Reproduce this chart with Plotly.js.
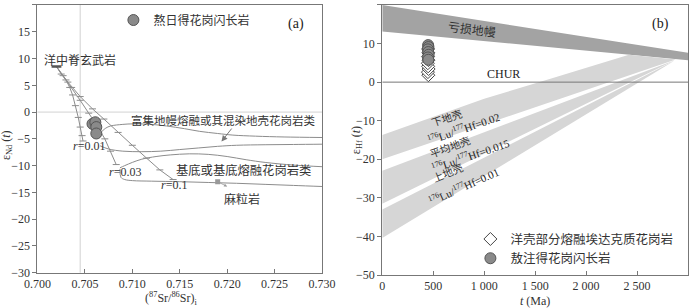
<!DOCTYPE html>
<html><head><meta charset="utf-8">
<script src="https://cdn.plot.ly/plotly-3.0.1.min.js"></script>
<style>html,body{margin:0;padding:0;background:#fff}#chart{width:700px;height:308px}</style>
</head><body><div id="chart"></div>
<script>
// ---------- Panel (a): Sr-Nd ----------
const mantleX = [0.7020], mantleY = [8.5];
const r001X = [0.7020,0.7025,0.7030,0.7034,0.7037,0.7040,0.7043,0.7045,0.7047,0.7048];
const r001Y = [8.5,7.1,6.0,4.6,3.2,1.2,-1.0,-2.8,-4.4,-5.4];
const r003X = [0.7020,0.7027,0.7036,0.7045,0.7054,0.7063,0.7071,0.7077,0.7083];
const r003Y = [8.5,6.8,4.6,2.2,-0.2,-2.6,-5.0,-7.3,-9.8];
const r01X  = [0.7020,0.7032,0.7045,0.7058,0.7070,0.7085,0.7100,0.7115,0.7129,0.7143];
const r01Y  = [8.5,5.6,2.9,0.6,-1.3,-3.8,-6.2,-8.6,-10.8,-12.6];
const emUpX = [0.7068,0.7072,0.7077,0.7090,0.7101,0.7120,0.7136,0.7155,0.7171,0.7190,0.7206,0.7230,0.7260,0.7300];
const emUpY = [-3.6,-3.0,-2.6,-2.3,-2.2,-2.3,-2.6,-3.1,-3.6,-4.0,-4.3,-4.5,-4.65,-4.75];
const emLoX = [0.7066,0.7075,0.7090,0.7110,0.7130,0.7150,0.7170,0.7190,0.7210,0.7240,0.7270,0.7300];
const emLoY = [-6.3,-6.9,-7.3,-7.4,-7.3,-7.0,-6.7,-6.4,-6.2,-6.1,-6.05,-6.0];
const bsUpX = [0.7087,0.7092,0.7100,0.7110,0.7125,0.7140,0.7160,0.7180,0.7200,0.7220,0.7240,0.7270,0.7300];
const bsUpY = [-10.4,-10.0,-9.4,-8.8,-8.3,-8.0,-7.8,-7.9,-8.3,-8.9,-9.4,-9.9,-10.2];
const bsLoX = [0.7087,0.7088,0.7092,0.7100,0.7120,0.7150,0.7180,0.7210,0.7240,0.7270,0.7300];
const bsLoY = [-10.6,-12.2,-12.6,-12.8,-12.9,-13.0,-13.15,-13.3,-13.5,-13.7,-13.9];
const sampleSr = [0.7058,0.7061,0.7062,0.7062];
const sampleNd = [-2.2,-1.9,-2.8,-4.0];
const granuliteSr = [0.7190], granuliteNd = [-13.0];
const bulkEarthSr = 0.7045, churNd = 0;
const srTicks = [0.700,0.705,0.710,0.715,0.720,0.725,0.730];
const ndTicks = [-30,-25,-20,-15,-10,-5,0,5,10,15,20];

// ---------- Panel (b): Hf evolution ----------
const dmT = [0,3000,3000,0], dmE = [20,7.6,5.7,13.1];
const lcT = [0,1000,1650,2420,2880,0], lcE = [-13.7,-4.3,0.9,7.1,5.9,-20];
const mcT = [0,2870,0], mcE = [-23,5.7,-31.5];
const ucT = [0,2870,0], ucE = [-33,5.6,-40.4];
const churT = [0,3000], churE = [0,0];
const adakT = [452,448,455,450,447,453,449,452,450];
const adakE = [1.8,2.6,3.4,4.1,4.9,5.7,6.6,7.6,8.6];
const granT = [450,453,448,451,455,449,452];
const granE = [9.6,9.1,8.5,7.8,7.1,6.4,5.8];
const tTicks = [0,500,1000,1500,2000,2500,3000];
const tTickText = ['0','500','1 000','1 500','2 000','2 500','3 000'];
const hfTicks = [-50,-40,-30,-20,-10,0,10,20];

const LG = '#8c8c8c';
const serif = 'Liberation Serif, Noto Sans CJK SC';
const cjk = 'Noto Sans CJK SC, Liberation Serif';
const tickMk = {symbol:'line-ew', size:5, line:{width:1, color:LG}};

const traces = [
  {x:r001X, y:r001Y, mode:'lines+markers', line:{color:LG,width:1}, marker:tickMk, showlegend:false, hoverinfo:'skip'},
  {x:r003X, y:r003Y, mode:'lines+markers', line:{color:LG,width:1}, marker:tickMk, showlegend:false, hoverinfo:'skip'},
  {x:r01X, y:r01Y, mode:'lines+markers', line:{color:LG,width:1}, marker:tickMk, showlegend:false, hoverinfo:'skip'},
  {x:emUpX, y:emUpY, mode:'lines', line:{color:LG,width:1, shape:'spline'}, showlegend:false},
  {x:emLoX, y:emLoY, mode:'lines', line:{color:LG,width:1, shape:'spline'}, showlegend:false},
  {x:bsUpX, y:bsUpY, mode:'lines', line:{color:LG,width:1, shape:'spline'}, showlegend:false},
  {x:bsLoX, y:bsLoY, mode:'lines', line:{color:LG,width:1, shape:'spline'}, showlegend:false},
  {x:mantleX, y:mantleY, mode:'markers', marker:{symbol:'line-ew', size:7, line:{width:2.5,color:'#555'}}, showlegend:false},
  {x:granuliteSr, y:granuliteNd, mode:'markers', marker:{symbol:'square', size:5, color:'#999'}, showlegend:false},
  {x:sampleSr, y:sampleNd, mode:'markers', name:'熬日得花岗闪长岩', legend:'legend',
   marker:{symbol:'circle', size:11, color:'#8a8a8a', line:{width:1,color:'#555'}}},
  // panel b
  {x:dmT, y:dmE, xaxis:'x2', yaxis:'y2', mode:'lines', fill:'toself', fillcolor:'#a3a3a3', line:{width:0}, showlegend:false},
  {x:lcT, y:lcE, xaxis:'x2', yaxis:'y2', mode:'lines', fill:'toself', fillcolor:'#d6d6d6', line:{width:0}, showlegend:false},
  {x:mcT, y:mcE, xaxis:'x2', yaxis:'y2', mode:'lines', fill:'toself', fillcolor:'#d6d6d6', line:{width:0}, showlegend:false},
  {x:ucT, y:ucE, xaxis:'x2', yaxis:'y2', mode:'lines', fill:'toself', fillcolor:'#d6d6d6', line:{width:0}, showlegend:false},
  {x:churT, y:churE, xaxis:'x2', yaxis:'y2', mode:'lines', line:{color:'#777',width:1}, showlegend:false},
  {x:adakT, y:adakE, xaxis:'x2', yaxis:'y2', mode:'markers', name:'洋壳部分熔融埃达克质花岗岩', legend:'legend2',
   marker:{symbol:'diamond', size:10, color:'#fff', line:{width:1,color:'#444'}}},
  {x:granT, y:granE, xaxis:'x2', yaxis:'y2', mode:'markers', name:'敖注得花岗闪长岩', legend:'legend2',
   marker:{symbol:'circle', size:11, color:'#8a8a8a', line:{width:1,color:'#555'}}}
];

const axBase = {showline:true, linecolor:'#777', linewidth:1, mirror:true, showgrid:false, zeroline:false,
  tickcolor:'#777', ticklen:4, tickfont:{family:serif, size:12, color:'#333'}};

function ann(xr, yr, x, y, text, size, angle, extra){
  return Object.assign({xref:xr, yref:yr, x:x, y:y, text:text, showarrow:false, textangle:angle||0,
    xanchor:'center', yanchor:'middle',
    font:{family:cjk, size:size||12, color:'#333'}}, extra||{});
}

const annotations = [
  ann('x','y',0.70448,9.9,'洋中脊玄武岩',12),
  ann('x','y',0.71951,-1.5,'富集地幔熔融或其混染地壳花岗岩类',11.5),
  ann('x','y',0.70538,-6.4,'<i>r</i>=0.01',11,0,{font:{family:serif,size:12,color:'#333'}}),
  ann('x','y',0.70926,-11.2,'<i>r</i>=0.03',11,0,{font:{family:serif,size:12,color:'#333'}}),
  ann('x','y',0.71440,-13.7,'<i>r</i>=0.1',11,0,{font:{family:serif,size:12,color:'#333'}}),
  ann('x','y',0.72172,-10.9,'基底或基底熔融花岗岩类',12.3),
  ann('x','y',0.72155,-16.2,'麻粒岩',12),
  ann('x','y',0.72731,16.45,'(a)',14,0,{font:{family:serif,size:14,color:'#222'}}),
  {xref:'x',yref:'y',axref:'x',ayref:'y',x:0.7194,y:-5.5,ax:0.7206,ay:-2.8,text:'',showarrow:true,arrowhead:2,arrowsize:1.2,arrowwidth:1,arrowcolor:'#777'},
  {xref:'x',yref:'y',axref:'x',ayref:'y',x:0.7200,y:-13.9,ax:0.7191,ay:-13.1,text:'',showarrow:true,arrowhead:2,arrowsize:0.8,arrowwidth:0.8,arrowcolor:'#999'},
  // panel b
  ann('x2','y2',880,13.9,'亏损地幔',12,7),
  ann('x2','y2',2728,15.1,'(b)',14,0,{font:{family:serif,size:14,color:'#222'}}),
  ann('x2','y2',1189,2.1,'CHUR',12,0,{font:{family:serif,size:12,color:'#222'}}),
  ann('x2','y2',633,-9.2,'下地壳',10.5,-18),
  ann('x2','y2',800,-12.0,'<sup>176</sup>Lu/<sup>177</sup>Hf=0.02',10.5,-19,{font:{family:serif,size:11,color:'#222'}}),
  ann('x2','y2',665,-16.8,'平均地壳',10.5,-20),
  ann('x2','y2',870,-19.0,'<sup>176</sup>Lu/<sup>177</sup>Hf=0.015',10.5,-19,{font:{family:serif,size:11,color:'#222'}}),
  ann('x2','y2',640,-23.4,'上地壳',10.5,-22),
  ann('x2','y2',800,-27.0,'<sup>176</sup>Lu/<sup>177</sup>Hf=0.01',10.5,-24,{font:{family:serif,size:11,color:'#222'}}),
  // axis titles
  ann('paper','paper',0.010,0.529,'ε<sub>Nd</sub> (<i>t</i>)',12,-90,{font:{family:serif,size:12,color:'#333'}}),
  ann('paper','paper',0.510,0.545,'ε<sub>Hf</sub> (<i>t</i>)',12,-90,{font:{family:serif,size:12,color:'#333'}}),
  ann('paper','paper',0.2443,0.030,'(<sup>87</sup>Sr/<sup>86</sup>Sr)<sub>i</sub>',12,0,{font:{family:serif,size:12,color:'#333'}}),
  ann('paper','paper',0.764,0.024,'<i>t</i> (Ma)',12,0,{font:{family:serif,size:12,color:'#333'}})
];

const shapes = [
  {type:'line', xref:'x', yref:'y domain', x0:bulkEarthSr, x1:bulkEarthSr, y0:0, y1:1, line:{color:'#d2d2d2', width:1}, layer:'below'},
  {type:'line', xref:'x domain', yref:'y', x0:0, x1:1, y0:churNd, y1:churNd, line:{color:'#d2d2d2', width:1}, layer:'below'}
];

const layout = {
  width:700, height:308, margin:{l:0,r:0,t:0,b:0},
  paper_bgcolor:'#fff', plot_bgcolor:'#fff', showlegend:true,
  xaxis:Object.assign({}, axBase, {domain:[0.05357,0.46], range:[0.700,0.730], tickvals:srTicks,
    ticktext:srTicks.map(v=>v.toFixed(3)), ticks:'inside', anchor:'y'}),
  yaxis:Object.assign({}, axBase, {domain:[0.1146,0.9838], range:[-30,20], tickvals:ndTicks, ticks:'outside', anchor:'x'}),
  xaxis2:Object.assign({}, axBase, {domain:[0.5461,0.9829], range:[0,3000], tickvals:tTicks, ticktext:tTickText, ticks:'inside', anchor:'y2'}),
  yaxis2:Object.assign({}, axBase, {domain:[0.1071,0.9838], range:[-50,20], tickvals:hfTicks, ticks:'outside', anchor:'x2'}),
  legend:{x:0.162, y:0.935, xanchor:'left', yanchor:'middle', bgcolor:'rgba(0,0,0,0)', borderwidth:0,
    font:{family:cjk, size:12, color:'#333'}},
  legend2:{x:0.672, y:0.192, xanchor:'left', yanchor:'middle', bgcolor:'rgba(0,0,0,0)', borderwidth:0,
    font:{family:cjk, size:12.5, color:'#333'}, tracegroupgap:0},
  annotations:annotations, shapes:shapes
};

Plotly.newPlot('chart', traces, layout, {displayModeBar:false, staticPlot:true});
</script></body></html>
